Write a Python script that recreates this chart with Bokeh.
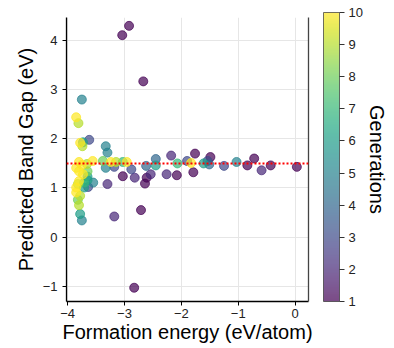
from bokeh.plotting import figure
from bokeh.models import (ColumnDataSource, LinearColorMapper, ColorBar, Span, Title,
                          FixedTicker, Range1d, LinearAxis)
from bokeh.palettes import Viridis256
from bokeh.embed import file_html
from bokeh.resources import INLINE

formation_energy = [-3.04, -2.92, -2.67, -2.83, -3.18, -2.71, -3.75, -3.85, -3.81, -3.62,
                    -3.78, -3.74, -3.73, -3.33, -3.30, -3.33, -3.80, -3.75, -3.56, -3.38,
                    -3.24, -3.15, -3.03, -2.96, -3.18, -3.03, -2.88, -2.82, -2.62, -2.64,
                    -2.61, -2.54, -2.45, -2.45, -2.18, -2.26, -2.08, -2.07, -1.90, -1.83,
                    -1.76, -1.79, -1.61, -1.54, -1.49, -1.51, -1.25, -1.03, -0.84, -0.72,
                    -0.59, -0.43, 0.03, -3.85, -3.80, -3.65, -3.73, -3.65, -3.65, -3.71,
                    -3.55, -3.64, -3.71, -3.30, -3.85, -3.82, -3.80, -3.85, -3.78, -3.80,
                    -3.82, -3.78, -3.75, -3.66]
band_gap = [4.11, 4.30, 3.17, -1.03, 0.42, 0.55, 2.80, 2.44, 2.32, 1.98,
            1.92, 1.85, 1.93, 1.85, 1.72, 1.41, 1.53, 1.47, 1.55, 1.55,
            1.53, 1.53, 1.53, 1.53, 1.43, 1.24, 1.38, 1.21, 1.45, 1.09,
            1.21, 1.28, 1.59, 1.46, 1.66, 1.28, 1.26, 1.50, 1.55, 1.51,
            1.70, 1.32, 1.50, 1.55, 1.63, 1.48, 1.45, 1.53, 1.46, 1.60,
            1.36, 1.46, 1.43, 1.41, 1.34, 1.34, 1.28, 1.23, 1.16, 1.11,
            1.11, 1.02, 1.01, 1.08, 1.01, 1.08, 1.14, 0.91, 0.84, 0.65,
            0.76, 0.47, 0.34, 1.49]
generation = [1, 1, 1, 1, 2, 1, 5, 10, 9, 3,
              10, 9, 6, 5, 5, 5, 10, 10, 10, 8,
              10, 9, 7, 10, 3, 1, 3, 2, 4, 1,
              1, 2, 4, 6, 2, 2, 1, 7, 3, 10,
              1, 1, 6, 3, 1, 4, 3, 5, 1, 1,
              2, 1, 1, 10, 10, 8, 10, 6, 6, 7,
              5, 3, 6, 2, 10, 9, 10, 10, 9, 9,
              8, 6, 5, 9]

x_ticks = [-4, -3, -2, -1, 0]
y_ticks = [-1, 0, 1, 2, 3, 4]
cbar_ticks = list(range(1, 11))
reference_gap = 1.5
x_start, x_end = -4.02, 0.235
y_start, y_end = -1.31, 4.47

TICK_FONT = "Liberation Sans"
LABEL_FONT = "Liberation Sans"

order = sorted(range(len(generation)), key=lambda i: generation[i])
src = ColumnDataSource(dict(
    x=[formation_energy[i] for i in order],
    y=[band_gap[i] for i in order],
    g=[generation[i] for i in order],
))

mapper = LinearColorMapper(palette=Viridis256, low=1, high=10)

p = figure(frame_width=242, frame_height=284, output_backend="svg", toolbar_location=None,
           x_range=Range1d(x_start, x_end), y_range=Range1d(y_start, y_end),
           min_border_left=66, min_border_top=17, min_border_bottom=0, min_border_right=0)

p.outline_line_color = None
p.background_fill_color = "white"
p.border_fill_color = "white"

p.xgrid.grid_line_color = "#e6e6e6"
p.ygrid.grid_line_color = "#e6e6e6"
p.xgrid.ticker = FixedTicker(ticks=x_ticks)
p.ygrid.ticker = FixedTicker(ticks=y_ticks)

for ax, ticks in ((p.xaxis, x_ticks), (p.yaxis, y_ticks)):
    ax.ticker = FixedTicker(ticks=ticks)
    ax.major_label_overrides = {t: str(t).replace("-", "\u2212") for t in ticks}
    ax.axis_line_color = "black"
    ax.axis_line_width = 1.3
    ax.major_tick_line_color = "black"
    ax.major_tick_out = 4
    ax.major_tick_in = 0
    ax.minor_tick_line_color = None
    ax.major_label_text_font = TICK_FONT
    ax.major_label_text_font_size = "13px"
    ax.major_label_text_color = "#222222"
    ax.axis_label_text_font = LABEL_FONT
    ax.axis_label_text_font_size = "20px"
    ax.axis_label_text_font_style = "normal"
    ax.axis_label_text_color = "black"

p.xaxis.axis_label = "Formation energy (eV/atom)"
p.yaxis.axis_label = "Predicted Band Gap (eV)"
p.xaxis.major_label_standoff = 3
p.xaxis.axis_label_standoff = 0
p.yaxis.major_label_standoff = 5
p.yaxis.axis_label_standoff = 3

# right spine; its invisible ticks leave the gap before the colour bar
right_spine = LinearAxis(ticker=FixedTicker(ticks=y_ticks), axis_line_color="#444444",
                         axis_line_width=1.3, major_tick_line_color=None,
                         minor_tick_line_color=None, major_tick_out=15, major_tick_in=0,
                         major_label_standoff=0,
                         major_label_overrides={t: "" for t in y_ticks})
p.add_layout(right_spine, "right")

p.add_layout(Span(location=reference_gap, dimension="width", line_color="red",
                  line_width=2, line_dash="2 2"))

p.scatter("x", "y", source=src, size=9,
          fill_color={"field": "g", "transform": mapper}, fill_alpha=0.7,
          line_color={"field": "g", "transform": mapper}, line_alpha=0.7)

cb = ColorBar(color_mapper=mapper, ticker=FixedTicker(ticks=cbar_ticks),
              width=16, height=289, padding=0, margin=0, location="bottom_left",
              scale_alpha=0.7,
              bar_line_color="#333333", bar_line_width=1,
              major_tick_line_color="#333333", major_tick_out=5, major_tick_in=0,
              minor_tick_line_color=None,
              major_label_text_font=TICK_FONT, major_label_text_font_size="13px",
              major_label_text_color="#222222", label_standoff=4,
              border_line_color=None, background_fill_color=None)
p.add_layout(cb, "right")

p.add_layout(Title(text="Generations", text_font=LABEL_FONT, text_font_size="20px",
                   text_font_style="normal", text_color="black", align="center",
                   standoff=0), "right")

open("out.html", "w").write(file_html(p, INLINE))
